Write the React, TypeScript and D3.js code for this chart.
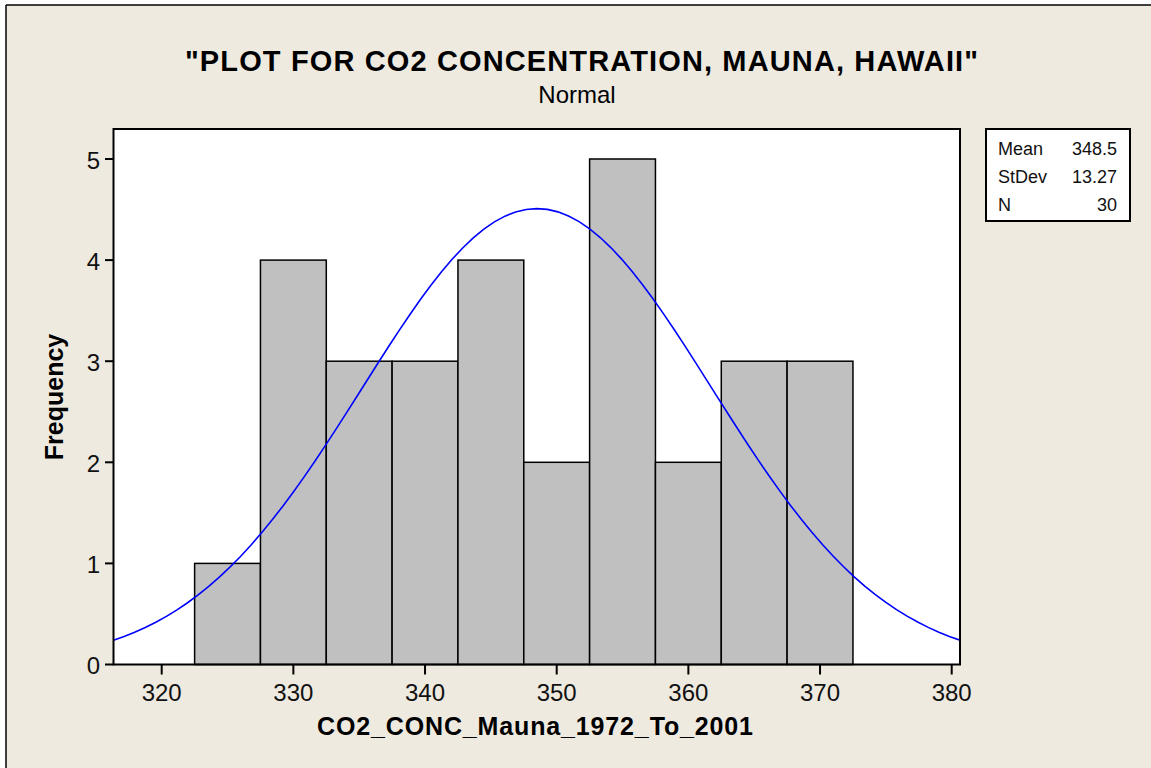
import React from "react";
import * as d3 from "d3";

// histogram data
const binEdges = [322.5, 327.5, 332.5, 337.5, 342.5, 347.5, 352.5, 357.5, 362.5, 367.5, 372.5];
const counts = [1, 4, 3, 3, 4, 2, 5, 2, 3, 3];
const xTicks = [320, 330, 340, 350, 360, 370, 380];
const yTicks = [0, 1, 2, 3, 4, 5];

// fitted normal stats (legend box)
const statLabels = ["Mean", "StDev", "N"];
const statValues = ["348.5", "13.27", "30"];
const mean = 348.5;
const stdev = 13.27;
const n = 30;
const binWidth = 5;

const W = 1151;
const H = 768;
const plot = { left: 113.5, right: 960, top: 129, bottom: 664.5 };
const font = "'Liberation Sans', Arial, sans-serif";
const bg = "#EEEAE0";

const App = () => {
  const x = d3.scaleLinear().domain([320, 380]).range([161.7, 951.7]);
  const y = d3.scaleLinear().domain([0, 5]).range([plot.bottom, 159]);

  const xMin = x.invert(plot.left);
  const xMax = x.invert(plot.right);

  const bins = counts.map((c, i) => ({ x0: binEdges[i], x1: binEdges[i + 1], c }));

  // normal curve scaled to frequency
  const scale = (n * binWidth) / (stdev * Math.sqrt(2 * Math.PI));
  const pts: [number, number][] = d3
    .range(0, 81)
    .map((i) => xMin + ((xMax - xMin) * i) / 80)
    .map((v) => [v, scale * Math.exp(-0.5 * ((v - mean) / stdev) ** 2)]);
  const line = d3
    .line<[number, number]>()
    .x((d) => x(d[0]))
    .y((d) => y(d[1]));

  return (
    <svg
      width={W}
      height={H}
      style={{ position: "absolute", left: 0, top: 0, display: "block" }}
      fontFamily={font}
    >
      <rect x={0} y={0} width={W} height={H} fill="#fff" />
      <rect x={6} y={5} width={W} height={H} fill={bg} />
      <line x1={6} y1={5} x2={W} y2={5} stroke="#000" strokeWidth={1.5} />
      <line x1={6} y1={5} x2={6} y2={H} stroke="#000" strokeWidth={1.5} />

      {/* titles */}
      <text x={581.5} y={71} textAnchor="middle" fontSize={29} fontWeight="bold" textLength={793} lengthAdjust="spacing">
        "PLOT FOR CO2 CONCENTRATION, MAUNA, HAWAII"
      </text>
      <text x={577} y={103} textAnchor="middle" fontSize={24}>
        Normal
      </text>

      {/* plot area */}
      <rect
        x={plot.left}
        y={plot.top}
        width={plot.right - plot.left}
        height={plot.bottom - plot.top}
        fill="#fff"
      />
      <defs>
        <clipPath id="plotClip">
          <rect x={plot.left} y={plot.top} width={plot.right - plot.left} height={plot.bottom - plot.top} />
        </clipPath>
      </defs>

      {bins.map((b, i) => (
        <rect
          key={i}
          x={x(b.x0)}
          y={y(b.c)}
          width={x(b.x1) - x(b.x0)}
          height={y(0) - y(b.c)}
          fill="#C0C0C0"
          stroke="#000"
          strokeWidth={1.5}
        />
      ))}

      <path d={line(pts) || ""} fill="none" stroke="#0000FF" strokeWidth={1.6} clipPath="url(#plotClip)" />

      <rect
        x={plot.left}
        y={plot.top}
        width={plot.right - plot.left}
        height={plot.bottom - plot.top}
        fill="none"
        stroke="#000"
        strokeWidth={2}
      />

      {/* y axis */}
      {yTicks.map((t) => (
        <g key={t}>
          <line x1={105} x2={plot.left} y1={y(t)} y2={y(t)} stroke="#000" strokeWidth={2} />
          <text x={100} y={y(t) + 9.5} textAnchor="end" fontSize={24} fill="#111">
            {t}
          </text>
        </g>
      ))}

      {/* x axis */}
      {xTicks.map((t) => (
        <g key={t}>
          <line x1={x(t)} x2={x(t)} y1={plot.bottom} y2={plot.bottom + 10} stroke="#000" strokeWidth={2} />
          <text x={x(t)} y={701} textAnchor="middle" fontSize={24} fill="#111">
            {t}
          </text>
        </g>
      ))}

      <text x={535} y={735} textAnchor="middle" fontSize={25} fontWeight="bold" textLength={436} lengthAdjust="spacing">
        CO2_CONC_Mauna_1972_To_2001
      </text>
      <text
        transform="translate(63,397) rotate(-90)"
        textAnchor="middle"
        fontSize={25}
        fontWeight="bold"
      >
        Frequency
      </text>

      {/* stats box */}
      <rect x={986} y={129} width={144} height={92} fill="#fff" stroke="#000" strokeWidth={2} />
      {statLabels.map((s, i) => (
        <g key={s}>
          <text x={998} y={155 + i * 28} fontSize={18} fill="#111">
            {s}
          </text>
          <text x={1117} y={155 + i * 28} fontSize={18} textAnchor="end" fill="#111">
            {statValues[i]}
          </text>
        </g>
      ))}
    </svg>
  );
};

export default App;
